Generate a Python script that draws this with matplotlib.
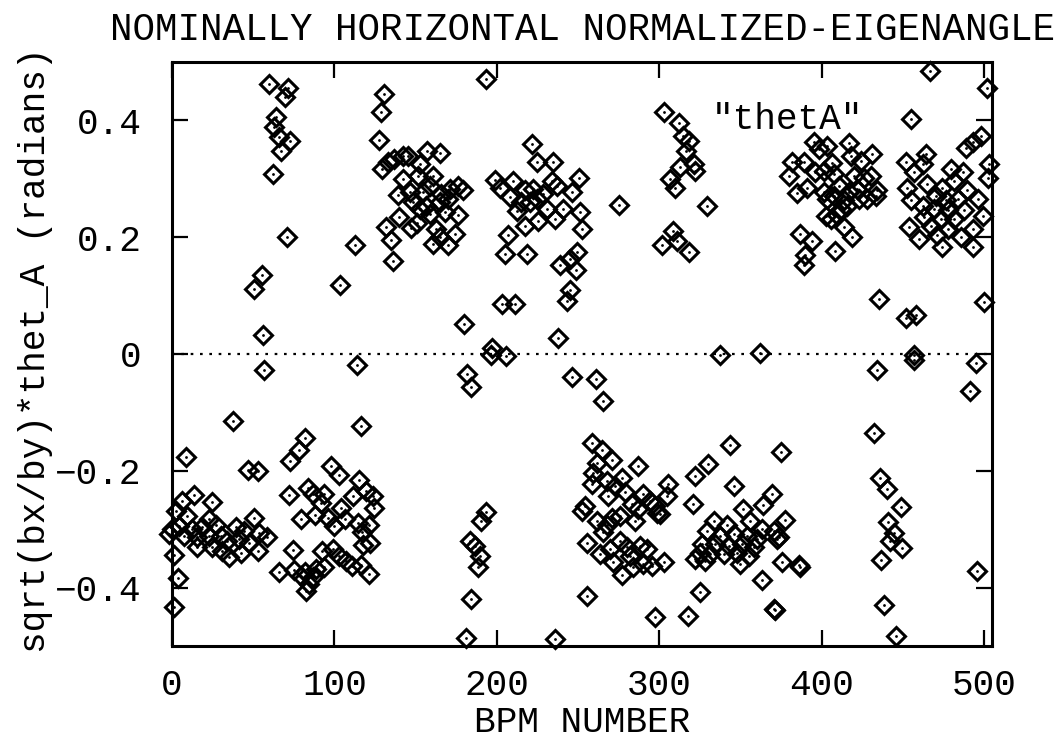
import matplotlib
matplotlib.use("Agg")
import matplotlib.pyplot as plt

# ---- data (BPM number, normalized eigenangle) ----
bpm_pos = [
    59.9, 71.2, 69.5, 64.0, 62.9, 65.6, 72.8, 67.1, 61.9, 71.1, 112.7, 55.3, 50.6, 103.7, 56.3,
    193.6, 130.8, 128.8, 127.3,
    129.4, 132.9, 137.0, 142.2, 145.2, 157.0, 165.2, 152.5, 142.2, 151.4, 160.7, 139.1, 146.3, 154.5,
    158.6, 171.0, 176.1, 179.2, 148.3, 156.6, 164.8, 169.9, 152.5, 140.1, 176.1, 167.9, 147.3, 131.5,
    135.0, 162.8, 164.8, 174.1, 160.7, 169.9, 136.0, 165.4, 158.6, 150.6,
    221.4, 224.5, 234.4, 198.8, 201.9, 210.1, 208.0, 217.3, 222.4, 228.6, 233.8, 236.9, 240.9, 246.1,
    250.8, 251.2, 252.3, 212.2, 217.3, 225.5, 230.7, 235.8, 215.2, 220.4, 224.5, 207.0, 204.9, 218.7,
    238.9, 249.2, 245.1, 248.8, 245.1, 243.0, 203.5, 211.1, 179.8, 237.8, 197.3, 196.7, 206.0,
    302.7, 312.5, 315.0, 318.1, 316.7, 321.2, 322.2, 313.0, 306.8, 309.9, 275.5, 329.4, 308.8, 301.7,
    311.3, 318.1, 337.7, 362.3,
    466.9, 501.9, 455.4, 498.1, 493.0, 488.9, 503.3, 502.3,
    395.2, 398.3, 403.5, 416.9, 431.3, 417.9, 424.1, 406.6, 381.9, 389.1, 396.3, 401.4, 407.6, 419.9,
    426.1, 430.2, 385.0, 391.2, 401.4, 410.7, 416.9, 422.0, 434.4, 407.6, 403.5, 413.8, 423.0, 428.2,
    433.3, 411.7, 415.9, 402.5, 405.6, 409.7, 413.8, 419.0, 387.0, 394.3, 408.6, 390.1, 389.1, 379.8,
    451.9, 464.2, 462.2, 457.0, 479.6, 486.9, 452.9, 465.2, 474.5, 481.7, 489.9, 496.1, 454.9, 462.2,
    470.4, 476.5, 483.8, 469.3, 477.6, 487.8, 499.2, 463.1, 473.5, 481.7, 453.9, 467.3, 477.6, 493.0,
    460.1, 474.5, 485.8, 493.0, 471.4, 435.4, 451.9, 458.0, 499.8, 457.0,
]
theta_pos = [
    0.463, 0.456, 0.440, 0.406, 0.389, 0.372, 0.365, 0.348, 0.308, 0.201, 0.186, 0.136, 0.111, 0.119, 0.032,
    0.471, 0.446, 0.414, 0.366,
    0.317, 0.328, 0.334, 0.339, 0.339, 0.348, 0.344, 0.325, 0.300, 0.304, 0.305, 0.272, 0.277, 0.277,
    0.288, 0.283, 0.288, 0.280, 0.260, 0.254, 0.260, 0.265, 0.248, 0.234, 0.238, 0.243, 0.216, 0.217,
    0.196, 0.214, 0.200, 0.206, 0.189, 0.186, 0.160, 0.274, 0.240, 0.225,
    0.359, 0.329, 0.329, 0.298, 0.284, 0.297, 0.268, 0.280, 0.282, 0.274, 0.297, 0.288, 0.248, 0.277,
    0.301, 0.243, 0.214, 0.245, 0.220, 0.227, 0.248, 0.231, 0.260, 0.260, 0.265, 0.203, 0.172, 0.172,
    0.152, 0.174, 0.163, 0.143, 0.109, 0.090, 0.085, 0.085, 0.052, 0.028, 0.010, -0.002, -0.003,
    0.414, 0.396, 0.373, 0.365, 0.348, 0.325, 0.314, 0.320, 0.300, 0.285, 0.255, 0.254, 0.211, 0.186,
    0.193, 0.174, -0.001, 0.002,
    0.484, 0.456, 0.403, 0.373, 0.363, 0.352, 0.325, 0.302,
    0.363, 0.351, 0.356, 0.361, 0.342, 0.339, 0.331, 0.327, 0.328, 0.328, 0.311, 0.314, 0.308, 0.305,
    0.302, 0.305, 0.276, 0.285, 0.277, 0.288, 0.277, 0.282, 0.280, 0.271, 0.265, 0.263, 0.265, 0.265,
    0.271, 0.248, 0.254, 0.237, 0.231, 0.238, 0.217, 0.200, 0.206, 0.194, 0.177, 0.169, 0.153, 0.305,
    0.328, 0.342, 0.325, 0.311, 0.317, 0.311, 0.285, 0.291, 0.285, 0.297, 0.280, 0.265, 0.263, 0.254,
    0.271, 0.263, 0.265, 0.248, 0.246, 0.246, 0.237, 0.234, 0.231, 0.231, 0.217, 0.220, 0.214, 0.214,
    0.197, 0.183, 0.200, 0.183, 0.203, 0.095, 0.061, 0.066, 0.089, -0.002,
]

bpm_neg = [
    56.8, 114.0, 37.7, 116.5, 8.5, 82.1, 78.4, 72.7, 47.1, 52.7, 98.0, 102.7, 115.0, 71.8, 83.5, 86.6,
    93.8, 91.8, 111.3, 119.6, 123.6, 104.1, 124.7, 79.4, 88.3, 95.9, 106.8, 100.0, 114.4, 121.2, 117.1,
    74.3, 117.9, 92.4, 99.0, 103.1, 107.2, 110.9, 116.5, 121.2, 66.0, 75.3, 82.1, 88.7, 93.8, 86.6,
    84.6, 82.5, 79.4, 122.2,
    13.6, 6.4, 24.9, 2.3, 9.4, 22.8, 50.2, 0.0, -2.0, 4.3, 12.5, 18.7, 27.0, 39.3, 44.4, 53.7, 58.8,
    7.4, 15.6, 22.8, 30.1, 34.1, 41.4, 47.5, 15.6, 24.9, 31.0, 35.2, 42.4, 52.7, 1.2, 3.9, 1.2,
    181.7, 184.4, 246.5, 193.2, 190.6, 183.3, 186.4, 189.5, 188.5, 184.4, 180.9, 235.8,
    261.1, 265.6, 258.5, 264.6, 270.8, 261.5, 287.2, 259.4, 267.7, 277.0, 258.5, 272.8, 268.7, 279.0,
    290.3, 305.7, 305.1, 294.4, 283.1, 287.2, 297.5, 298.6, 300.6, 254.3, 252.3, 285.2, 275.9, 270.8,
    261.5, 267.7, 265.6, 255.4, 275.9, 269.8, 280.1, 288.3, 292.4, 263.6, 282.1, 271.8, 284.1, 277.0,
    290.3, 295.5, 302.7, 255.4, 297.5, 317.5, 324.9, 363.4, 371.6, 370.5,
    343.4, 375.3, 330.4, 322.2, 345.9, 369.6, 320.8, 351.7, 364.0, 377.8, 333.5, 341.8, 356.2, 363.4,
    370.6, 329.4, 337.7, 345.9, 354.1, 360.3, 373.6, 326.4, 334.6, 342.8, 351.0, 358.2, 325.3, 331.5,
    339.7, 348.0, 355.1, 322.2, 328.4, 350.0, 375.7, 386.0, 372.7,
    434.4, 457.0, 495.1, 491.5, 432.3, 436.0, 440.6, 448.8, 441.2, 444.6, 442.2, 449.8, 436.4, 438.5,
    445.7, 495.7, 387.0,
]
theta_neg = [
    -0.028, -0.019, -0.115, -0.123, -0.176, -0.143, -0.164, -0.184, -0.199, -0.201, -0.192, -0.208,
    -0.216, -0.242, -0.229, -0.240, -0.240, -0.255, -0.243, -0.235, -0.243, -0.263, -0.263, -0.282,
    -0.276, -0.280, -0.283, -0.295, -0.290, -0.292, -0.305, -0.336, -0.327, -0.337, -0.334, -0.346,
    -0.354, -0.363, -0.362, -0.377, -0.373, -0.370, -0.373, -0.368, -0.364, -0.382, -0.394, -0.405,
    -0.380, -0.323,
    -0.242, -0.252, -0.253, -0.269, -0.277, -0.283, -0.281, -0.300, -0.309, -0.294, -0.300, -0.297,
    -0.292, -0.297, -0.303, -0.306, -0.314, -0.311, -0.314, -0.311, -0.311, -0.320, -0.317, -0.323,
    -0.331, -0.331, -0.337, -0.348, -0.340, -0.337, -0.344, -0.384, -0.434,
    -0.035, -0.056, -0.040, -0.271, -0.286, -0.320, -0.329, -0.346, -0.365, -0.419, -0.486, -0.488,
    -0.043, -0.080, -0.152, -0.164, -0.181, -0.186, -0.192, -0.203, -0.218, -0.212, -0.223, -0.226,
    -0.243, -0.237, -0.240, -0.223, -0.243, -0.252, -0.257, -0.266, -0.260, -0.272, -0.274, -0.260,
    -0.269, -0.286, -0.277, -0.280, -0.286, -0.292, -0.305, -0.323, -0.320, -0.334, -0.331, -0.329,
    -0.334, -0.343, -0.346, -0.357, -0.365, -0.378, -0.360, -0.363, -0.356, -0.414, -0.450, -0.448,
    -0.407, -0.387, -0.439, -0.436,
    -0.155, -0.168, -0.189, -0.209, -0.226, -0.239, -0.256, -0.265, -0.259, -0.285, -0.286, -0.293,
    -0.286, -0.300, -0.303, -0.303, -0.311, -0.309, -0.311, -0.317, -0.314, -0.326, -0.326, -0.329,
    -0.326, -0.331, -0.340, -0.343, -0.343, -0.340, -0.346, -0.351, -0.354, -0.360, -0.357, -0.361,
    -0.317,
    -0.028, -0.011, -0.015, -0.064, -0.135, -0.212, -0.232, -0.262, -0.288, -0.306, -0.320, -0.333,
    -0.353, -0.430, -0.483, -0.371, -0.364,
]

x_ticks = [0, 100, 200, 300, 400, 500]
x_tick_labels = ["0", "100", "200", "300", "400", "500"]
y_ticks = [0.4, 0.2, 0.0, -0.2, -0.4]
y_tick_labels = ["0.4", "0.2", "0", "\u22120.2", "\u22120.4"]

title = "NOMINALLY HORIZONTAL NORMALIZED-EIGENANGLE"
x_label = "BPM NUMBER"
y_label = "sqrt(bx/by)*thet_A (radians)"
annotation = '"thetA"'

# ---- drawing ----
FONT = "Liberation Mono"
FS = 26

fig = plt.figure(figsize=(10.59, 7.40), dpi=100)
ax = fig.add_axes([172 / 1059, 1 - 646 / 740, (992 - 172) / 1059, (646 - 62) / 740])

xs = bpm_pos + bpm_neg
ys = theta_pos + theta_neg

ax.axhline(0.0, color="black", lw=1.6, linestyle=(0, (1.2, 3.0)), zorder=1)
ax.plot(xs, ys, linestyle="none", marker="D", ms=9.3, mfc="none", mec="black",
        mew=2.2, clip_on=False, zorder=3)
ax.plot(xs, ys, linestyle="none", marker="o", ms=2.0, mfc="black", mec="black",
        mew=0, clip_on=False, zorder=3)

ax.set_xlim(0, 505)
ax.set_ylim(-0.5, 0.5)
ax.set_xticks(x_ticks)
ax.set_xticklabels(x_tick_labels, fontfamily=FONT, fontsize=FS)
ax.set_yticks(y_ticks)
ax.set_yticklabels(y_tick_labels, fontfamily=FONT, fontsize=FS)
ax.tick_params(direction="in", length=11.5, width=1.6, top=True, right=True,
               pad=16)
ax.tick_params(axis="y", pad=22)
for sp in ax.spines.values():
    sp.set_linewidth(2.2)

ax.text(379, 0.402, annotation, fontfamily=FONT, fontsize=FS,
        ha="center", va="center")

fig.text(582 / 1059, 1 - 30 / 740, title, fontfamily=FONT, fontsize=27,
         ha="center", va="center")
fig.text(582 / 1059, 1 - 722 / 740, x_label, fontfamily=FONT, fontsize=FS,
         ha="center", va="center")
fig.text(36 / 1059, 1 - 350 / 740, y_label, fontfamily=FONT, fontsize=FS,
         ha="center", va="center", rotation=90)

fig.savefig("out.png", dpi=100, facecolor="white")
